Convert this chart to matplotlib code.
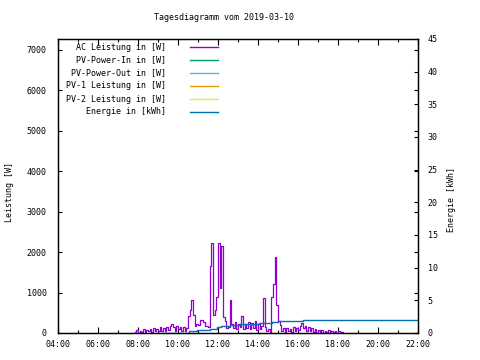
import matplotlib
matplotlib.use("Agg")
import matplotlib.pyplot as plt
from matplotlib.lines import Line2D

plt.rcParams['font.family'] = ['DejaVu Sans Mono']

title = "Tagesdiagramm vom 2019-03-10"
series_names = ["AC Leistung in [W]", "PV-Power-In in [W]", "PV-Power-Out in [W]",
                "PV-1 Leistung in [W]", "PV-2 Leistung in [W]", "Energie in [kWh]"]
series_colors = ["#9400D3", "#009E73", "#56B4E9", "#E69F00", "#F0E442", "#0072B2"]

x_ticks = [4, 6, 8, 10, 12, 14, 16, 18, 20, 22]
x_ticklabels = ["04:00", "06:00", "08:00", "10:00", "12:00", "14:00", "16:00", "18:00", "20:00", "22:00"]
y_left_ticks = [0, 1000, 2000, 3000, 4000, 5000, 6000, 7000]
y_right_ticks = [0, 5, 10, 15, 20, 25, 30, 35, 40, 45]

# AC power, 5-minute samples
ac_times = ["07:50", "07:55", "08:00", "08:05", "08:10", "08:15", "08:20", "08:25", "08:30", "08:35",
            "08:40", "08:45", "08:50", "08:55", "09:00", "09:05", "09:10", "09:15", "09:20", "09:25",
            "09:30", "09:35", "09:40", "09:45", "09:50", "09:55", "10:00", "10:05", "10:10", "10:15",
            "10:20", "10:25", "10:30", "10:35", "10:40", "10:45", "10:50", "10:55", "11:00", "11:05",
            "11:10", "11:15", "11:20", "11:25", "11:30", "11:35", "11:40", "11:45", "11:50", "11:55",
            "12:00", "12:05", "12:10", "12:15", "12:20", "12:25", "12:30", "12:35", "12:40", "12:45",
            "12:50", "12:55", "13:00", "13:05", "13:10", "13:15", "13:20", "13:25", "13:30", "13:35",
            "13:40", "13:45", "13:50", "13:55", "14:00", "14:05", "14:10", "14:15", "14:20", "14:25",
            "14:30", "14:35", "14:40", "14:45", "14:50", "14:55", "15:00", "15:05", "15:10", "15:15",
            "15:20", "15:25", "15:30", "15:35", "15:40", "15:45", "15:50", "15:55", "16:00", "16:05",
            "16:10", "16:15", "16:20", "16:25", "16:30", "16:35", "16:40", "16:45", "16:50", "16:55",
            "17:00", "17:05", "17:10", "17:15", "17:20", "17:25", "17:30", "17:35", "17:40", "17:45",
            "17:50", "17:55", "18:00", "18:05", "18:10", "18:15"]
ac_power = [20, 70, 10, 60, 30, 90, 20, 80, 40, 110,
            30, 120, 60, 100, 50, 140, 60, 130, 40, 150,
            70, 180, 230, 140, 60, 170, 90, 150, 40, 140,
            60, 120, 420, 580, 815, 450, 170, 220, 200, 310,
            310, 280, 170, 170, 150, 1650, 2230, 450, 560, 900,
            2230, 1100, 2150, 400, 300, 120, 160, 820, 220, 120,
            260, 90, 210, 140, 420, 110, 230, 130, 280, 90,
            250, 120, 290, 80, 230, 110, 170, 860, 140, 40,
            110, 30, 900, 1200, 1880, 700, 300, 200, 60, 130,
            30, 120, 40, 110, 20, 140, 60, 130, 80, 170,
            250, 120, 170, 60, 150, 40, 120, 20, 90, 10,
            70, 20, 80, 10, 60, 30, 80, 10, 50, 30,
            60, 10, 40, 20, 30, 30]

# Daily energy (kWh)
en_times = ["09:15", "10:33", "10:57", "11:36", "11:57", "12:09", "12:36", "13:03",
            "14:03", "14:42", "15:00", "16:15", "22:00"]
energy = [0.0, 0.3, 0.46, 0.66, 0.87, 1.07, 1.22, 1.33, 1.48, 1.68, 1.88, 1.99, 1.99]

pv_in = []
pv_out = []
pv1 = []
pv2 = []


def hours(ts):
    return [int(t[:2]) + int(t[3:]) / 60 for t in ts]


W, H = 480, 360
fig = plt.figure(figsize=(4.8, 3.6), dpi=100)
ax = fig.add_axes([58 / W, 27 / H, 360 / W, 294 / H])
ax2 = ax.twinx()

l_ac, = ax.plot(hours(ac_times), ac_power, color=series_colors[0], lw=0.9, drawstyle='steps-post')
l_in, = ax.plot(hours(ac_times[:len(pv_in)]), pv_in, color=series_colors[1], lw=0.9)
l_out, = ax.plot(hours(ac_times[:len(pv_out)]), pv_out, color=series_colors[2], lw=0.9)
l_p1, = ax.plot(hours(ac_times[:len(pv1)]), pv1, color=series_colors[3], lw=0.9)
l_p2, = ax.plot(hours(ac_times[:len(pv2)]), pv2, color=series_colors[4], lw=0.9)
l_en, = ax2.plot(hours(en_times), energy, color=series_colors[5], lw=1.0, drawstyle='steps-post')

ax.set_xlim(4, 22)
ax.set_ylim(0, 7260)
ax2.set_ylim(0, 45)

ax.set_xticks(x_ticks)
ax.set_xticklabels(x_ticklabels)
ax.set_xticks([h for h in range(5, 22, 2)], minor=True)
ax.set_yticks(y_left_ticks)
ax.set_yticklabels([str(v) for v in y_left_ticks])
ax2.set_yticks(y_right_ticks)
ax2.set_yticklabels([str(v) for v in y_right_ticks])

ax.tick_params(axis='x', which='major', direction='in', top=True, length=4, width=0.8,
               labelsize=6, pad=5)
ax.tick_params(axis='x', which='minor', direction='in', top=True, length=2, width=0.8)
ax.tick_params(axis='y', which='major', direction='in', right=True, length=3, width=0.8,
               labelsize=6, pad=8)
ax2.tick_params(axis='y', which='major', direction='in', length=3, width=0.8,
                labelsize=6, pad=7)
for a in (ax, ax2):
    for s in a.spines.values():
        s.set_linewidth(0.9)

fig.text(224 / W, 1 - 18 / H, title, ha='center', va='center', fontsize=6)
fig.text(10 / W, 1 - 192 / H, "Leistung [W]", rotation=90, ha='center', va='center', fontsize=6)
fig.text(452 / W, 1 - 200 / H, "Energie [kWh]", rotation=90, ha='center', va='center', fontsize=6)

handles = [l_ac, l_in, l_out, l_p1, l_p2, l_en]
for i, (name, h) in enumerate(zip(series_names, handles)):
    yy = 1 - (47 + 13 * i) / H
    fig.text(166 / W, yy, name, ha='right', va='center', fontsize=6)
    fig.lines.append(Line2D([190 / W, 218 / W], [yy, yy], transform=fig.transFigure,
                            color=h.get_color(), lw=1.0))

fig.savefig("out.png", dpi=100)
